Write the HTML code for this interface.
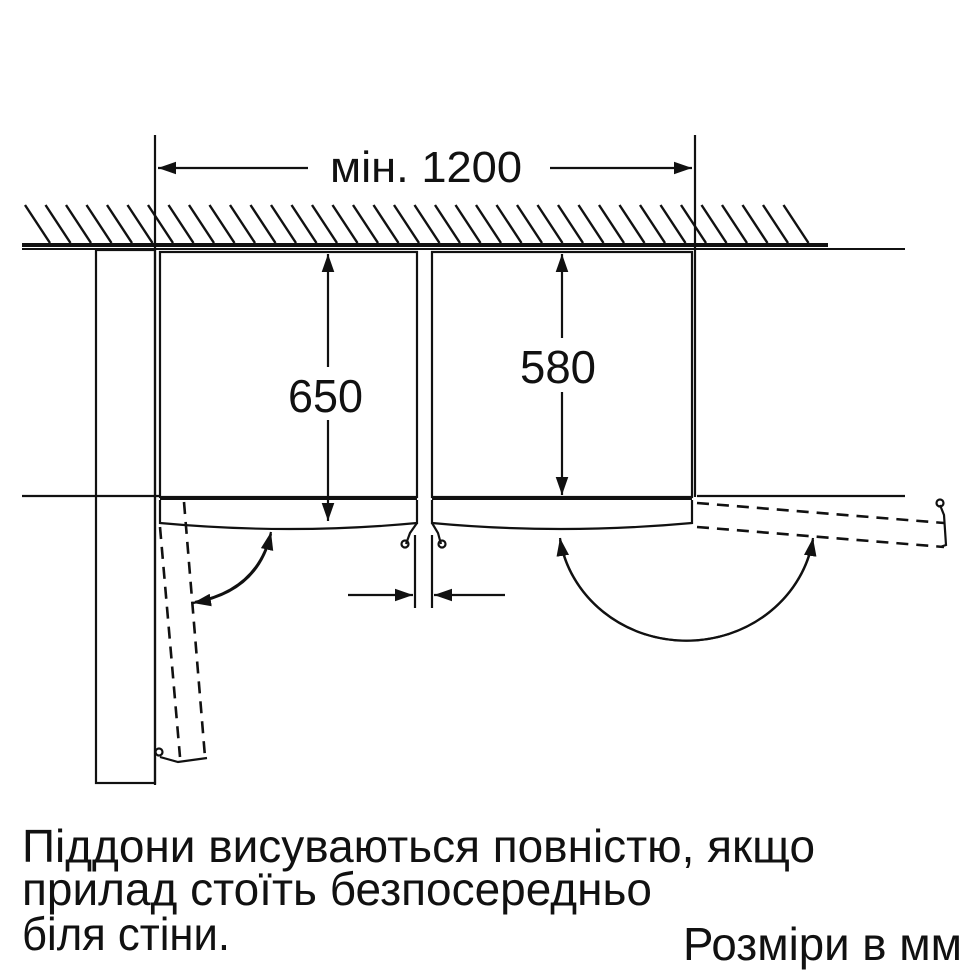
<!DOCTYPE html>
<html><head><meta charset="utf-8"><style>html,body{margin:0;padding:0;background:#fff}svg{display:block}</style></head>
<body>
<svg width="980" height="980" viewBox="0 0 980 980" xmlns="http://www.w3.org/2000/svg">
<defs>
<marker id="a" viewBox="0 0 10 10" refX="10" refY="5" markerWidth="18" markerHeight="18" markerUnits="userSpaceOnUse" orient="auto"><path d="M0,1.5 L10,5 L0,8.5 Z" fill="#111"/></marker>
</defs>
<g stroke="#111" fill="none" stroke-width="2.2">
<g stroke-width="2.4">
<line x1="25" y1="205" x2="50" y2="243"/><line x1="45.5" y1="205" x2="70.5" y2="243"/><line x1="66" y1="205" x2="91" y2="243"/><line x1="86.5" y1="205" x2="111.5" y2="243"/><line x1="107" y1="205" x2="132" y2="243"/><line x1="127.5" y1="205" x2="152.5" y2="243"/><line x1="148" y1="205" x2="173" y2="243"/><line x1="168.5" y1="205" x2="193.5" y2="243"/><line x1="189" y1="205" x2="214" y2="243"/><line x1="209.5" y1="205" x2="234.5" y2="243"/><line x1="230" y1="205" x2="255" y2="243"/><line x1="250.5" y1="205" x2="275.5" y2="243"/><line x1="271" y1="205" x2="296" y2="243"/><line x1="291.5" y1="205" x2="316.5" y2="243"/><line x1="312" y1="205" x2="337" y2="243"/><line x1="332.5" y1="205" x2="357.5" y2="243"/><line x1="353" y1="205" x2="378" y2="243"/><line x1="373.5" y1="205" x2="398.5" y2="243"/><line x1="394" y1="205" x2="419" y2="243"/><line x1="414.5" y1="205" x2="439.5" y2="243"/><line x1="435" y1="205" x2="460" y2="243"/><line x1="455.5" y1="205" x2="480.5" y2="243"/><line x1="476" y1="205" x2="501" y2="243"/><line x1="496.5" y1="205" x2="521.5" y2="243"/><line x1="517" y1="205" x2="542" y2="243"/><line x1="537.5" y1="205" x2="562.5" y2="243"/><line x1="558" y1="205" x2="583" y2="243"/><line x1="578.5" y1="205" x2="603.5" y2="243"/><line x1="599" y1="205" x2="624" y2="243"/><line x1="619.5" y1="205" x2="644.5" y2="243"/><line x1="640" y1="205" x2="665" y2="243"/><line x1="660.5" y1="205" x2="685.5" y2="243"/><line x1="681" y1="205" x2="706" y2="243"/><line x1="701.5" y1="205" x2="726.5" y2="243"/><line x1="722" y1="205" x2="747" y2="243"/><line x1="742.5" y1="205" x2="767.5" y2="243"/><line x1="763" y1="205" x2="788" y2="243"/><line x1="783.5" y1="205" x2="808.5" y2="243"/>
</g>
<line x1="22" y1="245" x2="828" y2="245" stroke-width="4"/>
<line x1="22" y1="249" x2="905" y2="249" stroke-width="2"/>
<line x1="155" y1="135" x2="155" y2="785"/>
<line x1="695" y1="135" x2="695" y2="497"/>
<line x1="308" y1="168" x2="158" y2="168" marker-end="url(#a)"/>
<line x1="550" y1="168" x2="692" y2="168" marker-end="url(#a)"/>
<rect x="96" y="250" width="59" height="533"/>
<rect x="160" y="252" width="257" height="245"/>
<rect x="432" y="252" width="260" height="245"/>
<line x1="22" y1="496" x2="160" y2="496"/>
<line x1="697" y1="496" x2="905" y2="496"/>
<line x1="160" y1="498" x2="417" y2="498" stroke-width="4"/>
<line x1="432" y1="498" x2="692" y2="498" stroke-width="4"/>
<path d="M160,500 V523 Q290,535 417,523 V500"/>
<path d="M432,500 V523 Q560,535 692,523 V500"/>
<line x1="328" y1="367" x2="328" y2="254" marker-end="url(#a)"/>
<line x1="328" y1="420" x2="328" y2="521" marker-end="url(#a)"/>
<line x1="562" y1="338" x2="562" y2="254" marker-end="url(#a)"/>
<line x1="562" y1="392" x2="562" y2="495" marker-end="url(#a)"/>
<line x1="415" y1="535" x2="415" y2="608"/>
<line x1="432" y1="535" x2="432" y2="608"/>
<line x1="348" y1="595" x2="413" y2="595" marker-end="url(#a)"/>
<line x1="505" y1="595" x2="434" y2="595" marker-end="url(#a)"/>
<path d="M417,523 L410,533 L406,544"/><path d="M432,523 L438,533 L441,544"/>
<circle cx="405" cy="544" r="3.5"/><circle cx="442" cy="544" r="3.5"/>
<path d="M813,540 A128,120 0 0 1 560,538" marker-end="url(#a)"/>
<path d="M560,540 A128,120 0 0 0 813,538" marker-end="url(#a)"/>
<g stroke-dasharray="12,8" stroke-width="2.6">
<line x1="697" y1="503" x2="944" y2="523"/>
<line x1="697" y1="527" x2="944" y2="547"/>
</g>
<path d="M940,505 L944,515 L946,545 L940,547" stroke-width="2.2"/>
<circle cx="940" cy="503" r="3.5"/>
<g stroke-dasharray="12,8" stroke-width="2.6">
<line x1="160" y1="527" x2="180" y2="757"/>
<line x1="184" y1="502" x2="205" y2="757"/>
</g>
<path d="M160,757 L178,762 L207,758" stroke-width="2.2"/>
<circle cx="159" cy="752" r="3.5"/>
<path d="M195,602 Q258,590 271,532" marker-end="url(#a)"/>
<path d="M271,534 Q258,592 193,603" marker-end="url(#a)"/>
</g>
<g font-family="'Liberation Sans', sans-serif" fill="#111">
<text x="330" y="182" font-size="44" textLength="192" lengthAdjust="spacingAndGlyphs">мін. 1200</text>
<text x="288" y="412" font-size="46" textLength="75" lengthAdjust="spacingAndGlyphs">650</text>
<text x="520" y="383" font-size="46" textLength="76" lengthAdjust="spacingAndGlyphs">580</text>
<text x="22" y="862" font-size="46" textLength="793" lengthAdjust="spacingAndGlyphs">Піддони висуваються повністю, якщо</text>
<text x="22" y="905" font-size="46" textLength="630" lengthAdjust="spacingAndGlyphs">прилад стоїть безпосередньо</text>
<text x="22" y="950" font-size="46" textLength="208" lengthAdjust="spacingAndGlyphs">біля стіни.</text>
<text x="683" y="960" font-size="46" textLength="279" lengthAdjust="spacingAndGlyphs">Розміри в мм</text>
</g>
</svg>
</body></html>
